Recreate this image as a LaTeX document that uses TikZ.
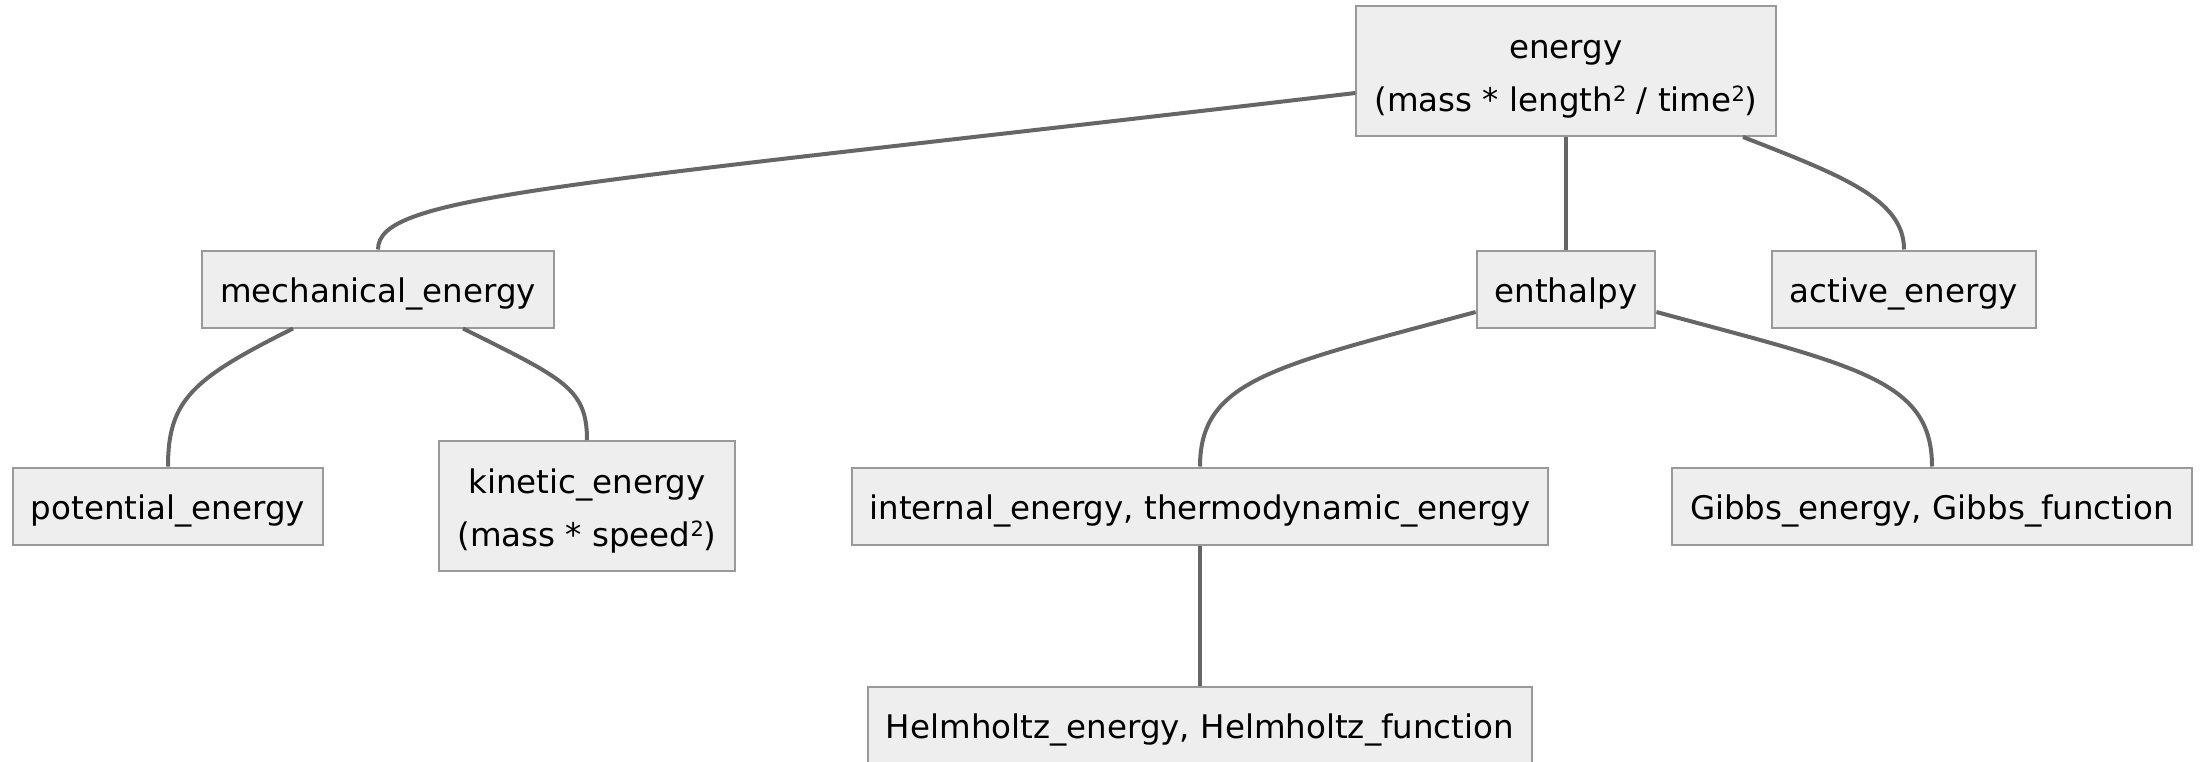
\documentclass[tikz,border=0pt]{standalone}
\usepackage{fontspec}
\setmainfont{DejaVu Sans}
\definecolor{termfill}{RGB}{238,238,238}
\definecolor{termline}{RGB}{153,153,153}
\definecolor{linkgray}{RGB}{102,102,102}
\newcommand\termfont{\fontsize{32.5pt}{53pt}\selectfont}
\newcommand\lnstrut{\rule[-13pt]{0pt}{53pt}}
\newcommand\sqr{\raisebox{10pt}{\fontsize{21pt}{21pt}\selectfont 2}}
\begin{document}
\begin{tikzpicture}[
        x                = 1pt,
        y                = -1pt,
        term/.style      = {draw=termline, fill=termfill, line width=2pt, inner xsep=18pt, inner ysep=12pt, font=\termfont},
        oneline/.style   = {term, text height=40pt, text depth=13pt},
        twoline/.style   = {term, align=center},
        link/.style      = {draw=linkgray, line width=4pt},
      ]
        \useasboundingbox (0,0) rectangle (2208,761);
        % top level
        \node[twoline] (energy) at (1566,71) {\lnstrut energy\\(mass * length\sqr{} / time\sqr)\lnstrut};
        % second level
        \node[oneline] (mech)   at (378,289)  {mechanical\_energy};
        \node[oneline] (enth)   at (1566,289) {enthalpy};
        \node[oneline] (active) at (1904,289) {active\_energy};
        % third level
        \node[oneline] (pot)    at (168,506)  {potential\_energy};
        \node[twoline] (kin)    at (587,506)  {\lnstrut kinetic\_energy\\(mass * speed\sqr)\lnstrut};
        \node[oneline] (inner)  at (1200,506) {internal\_energy, thermodynamic\_energy};
        \node[oneline] (gibbs)  at (1932,506) {Gibbs\_energy, Gibbs\_function};
        \node[oneline] (helm)   at (1200,725) {Helmholtz\_energy, Helmholtz\_function};

        \draw[link] ([yshift=-22pt]energy.west) .. controls +(-800,94) and +(0,-55) .. (mech.north);
        \draw[link] (energy.south) -- (enth.north);
        \draw[link] ([xshift=177pt]energy.south) .. controls +(100,39) and +(0,-50) .. (active.north);
        \draw[link] ([xshift=-85pt]mech.south) .. controls +(-100,50) and +(0,-67) .. (pot.north);
        \draw[link] ([xshift=85pt]mech.south) .. controls +(100,50) and +(0,-52) .. (kin.north);
        \draw[link] ([yshift=-23pt]enth.west) .. controls +(-200,54) and +(0,-87) .. (inner.north);
        \draw[link] ([yshift=-23pt]enth.east) .. controls +(200,54) and +(0,-87) .. (gibbs.north);
        \draw[link] (inner.south) -- (helm.north);
    \end{tikzpicture}
\end{document}
